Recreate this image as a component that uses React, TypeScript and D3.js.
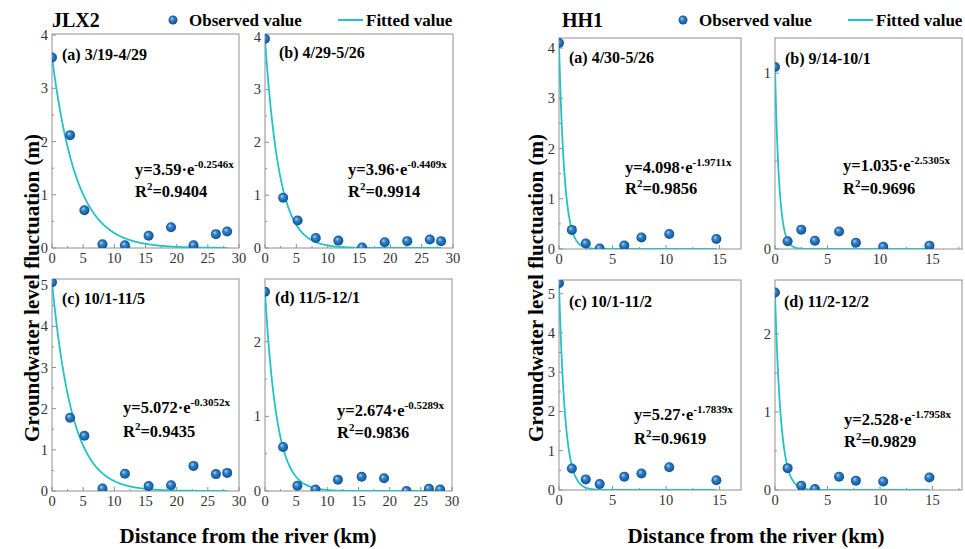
import React, { useEffect, useRef } from 'react';
import * as d3 from 'd3';

// distances of the wells from the river (km)
const jlxDistance = [0, 2.9, 5.2, 8.1, 11.7, 15.5, 19.1, 22.7, 26.3, 28.1];
const hhDistance = [0, 1.2, 2.5, 3.8, 6.1, 7.7, 10.3, 14.7];

// observed groundwater level fluctuation (m)
const jlxA = [3.58, 2.12, 0.71, 0.07, 0.05, 0.23, 0.39, 0.05, 0.26, 0.31];
const jlxB = [3.96, 0.95, 0.52, 0.19, 0.14, 0.01, 0.11, 0.13, 0.16, 0.13];
const jlxC = [5.07, 1.78, 1.34, 0.06, 0.42, 0.12, 0.14, 0.61, 0.41, 0.44];
const jlxD = [2.67, 0.59, 0.07, 0.02, 0.15, 0.19, 0.17, 0.0, 0.03, 0.02];
const hhA = [4.1, 0.38, 0.11, 0.01, 0.07, 0.23, 0.3, 0.2];
const hhB = [1.035, 0.044, 0.11, 0.047, 0.1, 0.036, 0.013, 0.019];
const hhC = [5.27, 0.55, 0.27, 0.15, 0.34, 0.42, 0.58, 0.25];
const hhD = [2.53, 0.28, 0.055, 0.013, 0.17, 0.12, 0.11, 0.16];

// fitted y = a * e^(b x)
const periods = ['(a) 3/19-4/29', '(b) 4/29-5/26', '(c) 10/1-11/5', '(d) 11/5-12/1',
  '(a) 4/30-5/26', '(b) 9/14-10/1', '(c) 10/1-11/2', '(d) 11/2-12/2'];
const fitA = ['3.59', '3.96', '5.072', '2.674', '4.098', '1.035', '5.27', '2.528'];
const fitB = ['-0.2546', '-0.4409', '-0.3052', '-0.5289', '-1.9711', '-2.5305', '-1.7839', '-1.7958'];
const fitR2 = ['0.9404', '0.9914', '0.9435', '0.9836', '0.9856', '0.9696', '0.9619', '0.9829'];

const seriesX = [jlxDistance, jlxDistance, jlxDistance, jlxDistance, hhDistance, hhDistance, hhDistance, hhDistance];
const seriesY = [jlxA, jlxB, jlxC, jlxD, hhA, hhB, hhC, hhD];

// layout: frame [left, top, right, bottom], axis ranges, label and equation positions
const layout = [
  { f: [52, 34, 239, 248], xMax: 30, yMax: 4.02, yStep: 1, lab: [62, 60], eq: [135, 175, 197] },
  { f: [265, 34, 453, 248], xMax: 30, yMax: 4.05, yStep: 1, lab: [279, 58], eq: [348, 175, 197] },
  { f: [52, 279, 239, 491], xMax: 30, yMax: 5.15, yStep: 1, lab: [62, 304], eq: [123, 413, 437] },
  { f: [265, 279, 452, 491], xMax: 30, yMax: 2.84, yStep: 1, lab: [275, 303], eq: [337, 416, 438] },
  { f: [559, 38, 741, 249], xMax: 17, yMax: 4.2, yStep: 1, lab: [569, 63], eq: [625, 173, 194] },
  { f: [775, 38, 962, 249], xMax: 17.8, yMax: 1.2, yStep: 1, lab: [785, 64], eq: [843, 171, 194] },
  { f: [559, 280, 741, 490], xMax: 17, yMax: 5.35, yStep: 1, lab: [569, 307], eq: [634, 420, 444] },
  { f: [775, 280, 962, 490], xMax: 17.8, yMax: 2.69, yStep: 1, lab: [784, 307], eq: [844, 425, 447] },
];

const FONT = "'Liberation Serif', 'Times New Roman', Times, serif";
const LINE = '#22c3c6';
const FRAME = '#8f8f8f';

const App = () => {
  const ref = useRef<SVGSVGElement>(null);

  useEffect(() => {
    const svg = d3.select(ref.current);
    svg.selectAll('*').remove();

    const defs = svg.append('defs');
    const grad = defs.append('radialGradient').attr('id', 'ball')
      .attr('cx', '50%').attr('cy', '50%').attr('r', '55%')
      .attr('fx', '35%').attr('fy', '32%');
    grad.append('stop').attr('offset', '0%').attr('stop-color', '#a9d4f5');
    grad.append('stop').attr('offset', '40%').attr('stop-color', '#2f7fc6');
    grad.append('stop').attr('offset', '100%').attr('stop-color', '#0b4a8c');

    const txt = (sel: any) => sel.append('text').attr('font-family', FONT);

    layout.forEach((L, i) => {
      const [x0, y0, x1, y1] = L.f;
      const x = d3.scaleLinear().domain([0, L.xMax]).range([x0, x1]);
      const y = d3.scaleLinear().domain([0, L.yMax]).range([y1, y0]);
      const g = svg.append('g');

      defs.append('clipPath').attr('id', `clip${i}`)
        .append('rect').attr('x', x0).attr('y', y0).attr('width', x1 - x0).attr('height', y1 - y0);

      // frame
      g.append('rect').attr('x', x0).attr('y', y0).attr('width', x1 - x0).attr('height', y1 - y0)
        .attr('fill', 'none').attr('stroke', FRAME).attr('stroke-width', 1);

      // ticks (inward)
      const xMajor = d3.range(0, L.xMax + 0.01, 5);
      const xMinor = d3.range(2.5, L.xMax + 0.01, 5);
      const yMajor = d3.range(0, L.yMax + 0.001, L.yStep);
      const yMinor = d3.range(L.yStep / 2, L.yMax + 0.001, L.yStep);
      xMajor.forEach(v => g.append('line').attr('x1', x(v)).attr('x2', x(v)).attr('y1', y1).attr('y2', y1 - 4).attr('stroke', FRAME));
      xMinor.forEach(v => g.append('line').attr('x1', x(v)).attr('x2', x(v)).attr('y1', y1).attr('y2', y1 - 2).attr('stroke', FRAME));
      yMajor.forEach(v => g.append('line').attr('x1', x0).attr('x2', x0 + 4).attr('y1', y(v)).attr('y2', y(v)).attr('stroke', FRAME));
      yMinor.forEach(v => g.append('line').attr('x1', x0).attr('x2', x0 + 2).attr('y1', y(v)).attr('y2', y(v)).attr('stroke', FRAME));

      xMajor.forEach(v => txt(g).attr('x', x(v)).attr('y', y1 + 15).attr('text-anchor', 'middle')
        .attr('font-size', 14.5).attr('fill', '#333').text(v));
      yMajor.forEach(v => txt(g).attr('x', x0 - 4).attr('y', y(v) + 5).attr('text-anchor', 'end')
        .attr('font-size', 14.5).attr('fill', '#333').text(v));

      // fitted curve
      const a = +fitA[i];
      const b = +fitB[i];
      const xs = seriesX[i];
      const xEnd = xs[xs.length - 1];
      const curve = d3.range(0, 301).map(k => {
        const xv = (xEnd * k) / 300;
        return [xv, a * Math.exp(b * xv)];
      });
      const line = d3.line<number[]>().x(d => x(d[0])).y(d => y(d[1]));
      g.append('path').datum(curve).attr('d', line).attr('fill', 'none')
        .attr('stroke', LINE).attr('stroke-width', 1.8).attr('clip-path', `url(#clip${i})`);

      // observed points
      g.append('g').attr('clip-path', `url(#clip${i})`)
        .selectAll('circle').data(seriesY[i]).enter().append('circle')
        .attr('cx', (d, k) => x(xs[k])).attr('cy', d => y(d)).attr('r', 5)
        .attr('fill', 'url(#ball)');

      // panel label
      txt(g).attr('x', L.lab[0]).attr('y', L.lab[1])
        .attr('font-size', 16).attr('font-weight', 'bold').text(periods[i]);

      // equation
      const eq = txt(g).attr('x', L.eq[0]).attr('y', L.eq[1])
        .attr('font-size', 16.5).attr('font-weight', 'bold');
      eq.append('tspan').text(`y=${fitA[i]}·e`);
      eq.append('tspan').attr('dy', -7).attr('font-size', 11).text(`${fitB[i]}x`);
      const r2 = txt(g).attr('x', L.eq[0]).attr('y', L.eq[2])
        .attr('font-size', 16.5).attr('font-weight', 'bold');
      r2.append('tspan').text('R');
      r2.append('tspan').attr('dy', -7).attr('font-size', 11).text('2');
      r2.append('tspan').attr('dy', 7).text(`=${fitR2[i]}`);
    });

    // group titles, legends, axis titles
    [{ t: 'JLX2', x: 52, mk: 173, ln: 338, cx: 248, yt: 39 }, { t: 'HH1', x: 562, mk: 683, ln: 848, cx: 756, yt: 543 }]
      .forEach(G => {
        txt(svg).attr('x', G.x).attr('y', 27).attr('font-size', 20)
          .attr('font-weight', 'bold').text(G.t);
        svg.append('circle').attr('cx', G.mk).attr('cy', 20).attr('r', 4.5).attr('fill', 'url(#ball)');
        txt(svg).attr('x', G.mk + 16).attr('y', 26).attr('font-size', 17)
          .attr('font-weight', 'bold').text('Observed value');
        svg.append('line').attr('x1', G.ln).attr('x2', G.ln + 25).attr('y1', 20).attr('y2', 20)
          .attr('stroke', LINE).attr('stroke-width', 2);
        txt(svg).attr('x', G.ln + 28).attr('y', 26).attr('font-size', 17)
          .attr('font-weight', 'bold').text('Fitted value');
        txt(svg).attr('x', G.cx).attr('y', 543).attr('text-anchor', 'middle')
          .attr('font-size', 21).attr('font-weight', 'bold').text('Distance from the river (km)');
        txt(svg).attr('transform', `translate(${G.yt},288) rotate(-90)`)
          .attr('text-anchor', 'middle').attr('font-size', 21).attr('font-weight', 'bold')
          .text('Groundwater level fluctuation (m)');
      });
  }, []);

  return (
    <svg ref={ref} width={965} height={549}
      style={{ position: 'absolute', left: 0, top: 0, background: '#fff' }} />
  );
};

export default App;
